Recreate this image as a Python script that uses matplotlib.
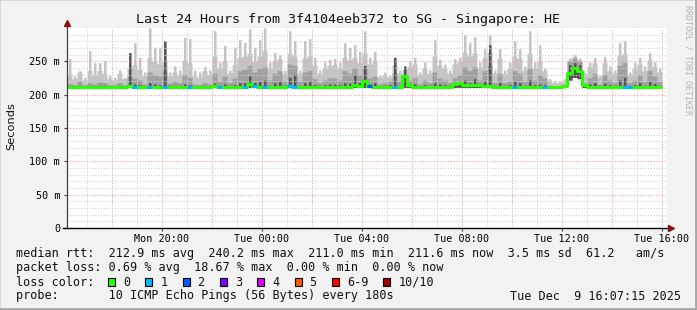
import matplotlib
matplotlib.use('Agg')
import matplotlib.pyplot as plt
import numpy as np
from matplotlib.patches import Rectangle
from matplotlib.lines import Line2D

W, H = 697, 310
T_START = 16.2      # hours since Mon 00:00 at the left edge of the graph
BIN_H = 0.2         # each sample bin = 12 minutes

# ---------------- data (ms) ----------------
# tallest ping in each bin (narrow spike)
smoke_peak = [254, 228, 236, 226, 266, 248, 248, 251, 229, 226,
              237, 226, 263, 278, 256, 234, 300, 271, 271, 281,
              234, 243, 237, 286, 284, 237, 234, 243, 237, 296,
              249, 274, 237, 271, 283, 278, 299, 271, 283, 300,
              249, 263, 260, 237, 296, 281, 237, 281, 284, 256,
              237, 249, 253, 254, 249, 278, 271, 275, 265, 296,
              256, 265, 229, 234, 229, 256, 237, 243, 251, 256,
              234, 249, 237, 283, 253, 246, 237, 254, 256, 290,
              278, 287, 249, 269, 290, 237, 269, 237, 249, 281,
              269, 243, 296, 249, 275, 240, 224, 221, 221, 224,
              255, 260, 255, 234, 249, 256, 229, 257, 243, 237,
              278, 281, 234, 249, 256, 243, 263, 249, 240]

# light smoke level around the spike
smoke_light = [230, 224, 234, 222, 236, 230, 236, 232, 224, 222,
               232, 224, 240, 245, 238, 228, 256, 250, 246, 250,
               228, 234, 230, 252, 248, 228, 226, 236, 230, 258,
               240, 250, 232, 245, 256, 258, 262, 250, 258, 266,
               240, 250, 254, 232, 262, 258, 232, 255, 258, 244,
               232, 240, 244, 245, 240, 256, 252, 256, 248, 262,
               246, 250, 226, 230, 226, 245, 232, 238, 242, 246,
               230, 240, 232, 258, 244, 240, 232, 246, 250, 264,
               258, 262, 240, 255, 264, 232, 255, 232, 240, 258,
               255, 236, 262, 240, 250, 236, 220, 218, 218, 220,
               252, 257, 252, 230, 242, 248, 226, 248, 236, 232,
               260, 262, 230, 240, 246, 236, 252, 242, 234]

# medium-grey smoke
smoke_mid = [216, 215, 220, 215, 218, 216, 219, 218, 215, 215,
             218, 215, 228, 225, 222, 216, 234, 230, 228, 236,
             217, 220, 218, 230, 226, 216, 215, 218, 216, 232,
             220, 228, 218, 225, 236, 238, 244, 234, 240, 242,
             222, 232, 236, 220, 246, 244, 220, 234, 236, 224,
             218, 222, 225, 225, 222, 236, 232, 240, 230, 240,
             225, 228, 216, 218, 220, 232, 220, 230, 222, 225,
             216, 222, 218, 234, 225, 222, 218, 225, 230, 242,
             236, 242, 222, 236, 244, 218, 232, 218, 220, 236,
             232, 220, 240, 222, 230, 225, 214, 213, 213, 214,
             250, 255, 250, 218, 225, 232, 216, 230, 222, 218,
             244, 248, 218, 222, 230, 220, 236, 228, 220]

# dark smoke (close to the median, a few dark spikes)
smoke_dark = [214, 213, 214, 213, 214, 213, 214, 214, 213, 213,
              214, 213, 263, 216, 215, 213, 218, 216, 215, 281,
              214, 214, 214, 216, 215, 213, 213, 214, 213, 217,
              214, 216, 214, 215, 218, 218, 228, 218, 220, 222,
              214, 218, 220, 214, 226, 230, 214, 218, 220, 215,
              214, 215, 216, 216, 215, 218, 217, 230, 218, 244,
              216, 218, 213, 214, 215, 256, 214, 243, 215, 216,
              213, 215, 214, 218, 216, 215, 214, 216, 217, 222,
              218, 224, 215, 220, 275, 214, 218, 214, 215, 220,
              218, 214, 222, 215, 216, 215, 213, 213, 213, 213,
              245, 248, 245, 214, 216, 218, 213, 217, 215, 214,
              222, 226, 214, 215, 218, 214, 220, 217, 214]

smoke_min = [211, 211, 211, 211, 211, 211, 211, 211, 211, 211,
             211, 211, 211, 211, 211, 211, 211, 211, 211, 211,
             211, 211, 211, 211, 211, 211, 211, 211, 211, 211,
             211, 211, 211, 211, 211, 211, 211, 211, 211, 211,
             211, 211, 211, 211, 211, 211, 211, 211, 211, 211,
             211, 211, 211, 211, 211, 211, 211, 211, 211, 211,
             211, 211, 211, 211, 211, 211, 211, 211, 211, 211,
             211, 211, 211, 211, 211, 211, 211, 211, 211, 211,
             211, 211, 211, 211, 211, 211, 211, 211, 211, 211,
             211, 211, 211, 211, 211, 211, 211, 211, 211, 211,
             222, 226, 224, 211, 211, 211, 211, 211, 211, 211,
             211, 211, 211, 211, 211, 211, 211, 211, 211]

median = [212, 212, 212, 212, 212, 212, 212, 212, 212, 212,
          212, 212, 213, 212, 212, 212, 212, 212, 212, 212,
          212, 212, 212, 212, 212, 212, 212, 212, 212, 213,
          212, 212, 212, 212, 212, 212, 216, 213, 212, 212,
          212, 212, 212, 212, 213, 212, 212, 212, 212, 212,
          212, 212, 212, 212, 212, 212, 212, 214, 213, 220,
          213, 212, 212, 212, 212, 212, 212, 228, 214, 212,
          212, 212, 212, 212, 212, 212, 212, 216, 218, 214,
          215, 214, 215, 213, 213, 212, 212, 212, 212, 212,
          212, 212, 212, 212, 212, 212, 212, 212, 212, 213,
          232, 240, 236, 214, 212, 212, 212, 212, 212, 212,
          212, 212, 212, 212, 212, 212, 212, 212, 212]

loss = [0, 0, 0, 0, 0, 0, 0, 0, 0, 0,
        0, 0, 0, 1, 0, 0, 1, 0, 0, 1,
        0, 0, 0, 0, 1, 0, 0, 0, 0, 0,
        1, 0, 0, 0, 0, 1, 0, 1, 0, 1,
        0, 0, 0, 0, 1, 1, 0, 0, 0, 0,
        0, 0, 0, 0, 0, 0, 0, 0, 0, 0,
        2, 0, 0, 0, 0, 1, 0, 0, 0, 0,
        0, 0, 0, 0, 0, 0, 0, 0, 0, 0,
        0, 0, 0, 0, 0, 0, 0, 0, 0, 1,
        0, 0, 0, 0, 0, 1, 0, 0, 0, 0,
        0, 0, 0, 0, 0, 0, 0, 0, 0, 0,
        0, 1, 1, 0, 0, 0, 0, 0, 0]

loss_labels = ['0', '1', '2', '3', '4', '5', '6-9', '10/10']
loss_colors = ['#26ff00', '#00b8ff', '#0059ff', '#7e00ff', '#dd00ff',
               '#ff5500', '#ff0000', '#a10000']

x_tick_hours = [20, 24, 28, 32, 36, 40]
x_tick_labels = ['Mon 20:00', 'Tue 00:00', 'Tue 04:00', 'Tue 08:00',
                 'Tue 12:00', 'Tue 16:00']
y_tick_vals = [0, 50, 100, 150, 200, 250]
y_tick_labels = ['0', '50 m', '100 m', '150 m', '200 m', '250 m']

title = 'Last 24 Hours from 3f4104eeb372 to SG - Singapore: HE'
line_rtt = ('median rtt:  212.9 ms avg  240.2 ms max  211.0 ms min  '
            '211.6 ms now  3.5 ms sd  61.2   am/s')
line_loss = 'packet loss: 0.69 % avg  18.67 % max  0.00 % min  0.00 % now'
line_probe = 'probe:       10 ICMP Echo Pings (56 Bytes) every 180s'
stamp = 'Tue Dec  9 16:07:15 2025'

# ---------------- figure ----------------
MONO = 'DejaVu Sans Mono'
BG = '#f2f2f2'
fig = plt.figure(figsize=(W / 100, H / 100), dpi=100, facecolor=BG)


def fx(x):
    return x / W


def fy(y):
    return 1 - y / H


# outer border
fig.add_artist(Rectangle((0, 0), 1, 1, transform=fig.transFigure,
                         fill=False, edgecolor='#d8d8d8', lw=1.5))
fig.add_artist(Line2D([fx(0), fx(W)], [fy(H - 1), fy(H - 1)],
                      transform=fig.transFigure, color='#a8a8a8', lw=2))
fig.add_artist(Line2D([fx(W - 1), fx(W - 1)], [fy(0), fy(H)],
                      transform=fig.transFigure, color='#a8a8a8', lw=2))

ax = fig.add_axes([fx(67), fy(228), 600 / W, 200 / H])
ax.set_facecolor('white')
for s in ax.spines.values():
    s.set_visible(False)

n = len(smoke_peak)
edges = T_START + BIN_H * np.arange(n + 1)

# sub-steps inside each bin: surround | spike | surround
sub = np.array([0.0, 0.3, 0.8])
xs = np.concatenate([edges[i] + BIN_H * sub for i in range(n)] + [[edges[-1]]])


def spike(base, top):
    out = []
    for b, t in zip(base, top):
        out += [b, t, b]
    out.append(out[-1])
    return np.array(out, dtype=float)


def flat(a):
    out = []
    for v in a:
        out += [v, v, v]
    out.append(out[-1])
    return np.array(out, dtype=float)


lo = flat(smoke_min)
ax.fill_between(xs, lo, spike(smoke_light, smoke_peak), step='post',
                color='#c4c4c4', lw=0, zorder=1)
ax.fill_between(xs, lo, flat(smoke_mid), step='post', color='#a0a0a0',
                lw=0, zorder=1.1)
ax.fill_between(xs, lo, spike(median, smoke_dark), step='post',
                color='#555555', lw=0, zorder=1.2)

x0, x1 = T_START, T_START + 24
ax.set_xlim(x0, x1)
ax.set_ylim(0, 300)

# grid (drawn above smoke, like rrdtool)
for h in range(17, 41):
    col = '#f4a0a0' if h % 2 == 0 else '#d4d4d4'
    ax.axvline(h, color=col, lw=0.8, ls=(0, (1, 1.5)), zorder=3)
for v in range(10, 300, 10):
    col = '#f4a0a0' if v % 50 == 0 else '#d4d4d4'
    ax.axhline(v, color=col, lw=0.8, ls=(0, (1, 1.5)), zorder=3)

# median line coloured by loss
ax.step(edges, np.append(median, median[-1]), where='post',
        color=loss_colors[0], lw=2.2, zorder=4, solid_capstyle='butt')
for i, l in enumerate(loss):
    if l > 0:
        ax.hlines(median[i], edges[i], edges[i + 1],
                  color=loss_colors[min(l, 6)], lw=2.2, zorder=5)

# ticks
ax.set_xticks(x_tick_hours)
ax.set_xticklabels(x_tick_labels, fontfamily=MONO, fontsize=7.3)
ax.set_yticks(y_tick_vals)
ax.set_yticklabels(y_tick_labels, fontfamily=MONO, fontsize=7.3)
ax.tick_params(axis='both', length=2.5, width=0.8, color='#404040', pad=2.5)
ax.tick_params(axis='x', pad=2.0)

# axis lines with arrows
ax.plot([0, 0], [0, 1.02], transform=ax.transAxes, color='#404040', lw=0.9,
        clip_on=False, zorder=6)
ax.plot([-0.006, 1.0], [0, 0], transform=ax.transAxes, color='black', lw=1.0,
        clip_on=False, zorder=6)
ax.plot([0], [1.026], transform=ax.transAxes, marker='^', color='#8b1010',
        ms=4.5, clip_on=False, zorder=7)
ax.plot([1.006], [0], transform=ax.transAxes, marker='>', color='#8b1010',
        ms=4.5, clip_on=False, zorder=7)

# texts
fig.text(fx(348.5), fy(19), title, ha='center', va='center',
         fontfamily=MONO, fontsize=9.6, color='#111111')
fig.text(fx(11), fy(126), 'Seconds', rotation=90, ha='center', va='center',
         fontfamily='DejaVu Sans', fontsize=8.2, color='#111111')
fig.text(fx(688), fy(60), 'RRDTOOL / TOBI OETIKER', rotation=-90,
         ha='center', va='center', fontfamily=MONO, fontsize=6.0,
         color='#b4b4b4')

LFS = 8.5
fig.text(fx(16), fy(254), line_rtt, ha='left', va='center',
         fontfamily=MONO, fontsize=LFS, color='#111111')
fig.text(fx(16), fy(268), line_loss, ha='left', va='center',
         fontfamily=MONO, fontsize=LFS, color='#111111')
fig.text(fx(16), fy(282), 'loss color:', ha='left', va='center',
         fontfamily=MONO, fontsize=LFS, color='#111111')
fig.text(fx(16), fy(296), line_probe, ha='left', va='center',
         fontfamily=MONO, fontsize=LFS, color='#111111')
fig.text(fx(681), fy(296), stamp, ha='right', va='center',
         fontfamily=MONO, fontsize=LFS, color='#111111')

# loss colour legend boxes
CH = 7.11
bx = 108.0
for lab, col in zip(loss_labels, loss_colors):
    fig.add_artist(Rectangle((fx(bx), fy(285.5)), 7 / W, 7.5 / H,
                             transform=fig.transFigure, facecolor=col,
                             edgecolor='black', lw=0.8))
    fig.text(fx(bx + 15), fy(282), lab, ha='left', va='center',
             fontfamily=MONO, fontsize=LFS, color='#111111')
    bx += 37.3 + CH * (len(lab) - 1)

fig.savefig('out.png', dpi=100, facecolor=BG)
